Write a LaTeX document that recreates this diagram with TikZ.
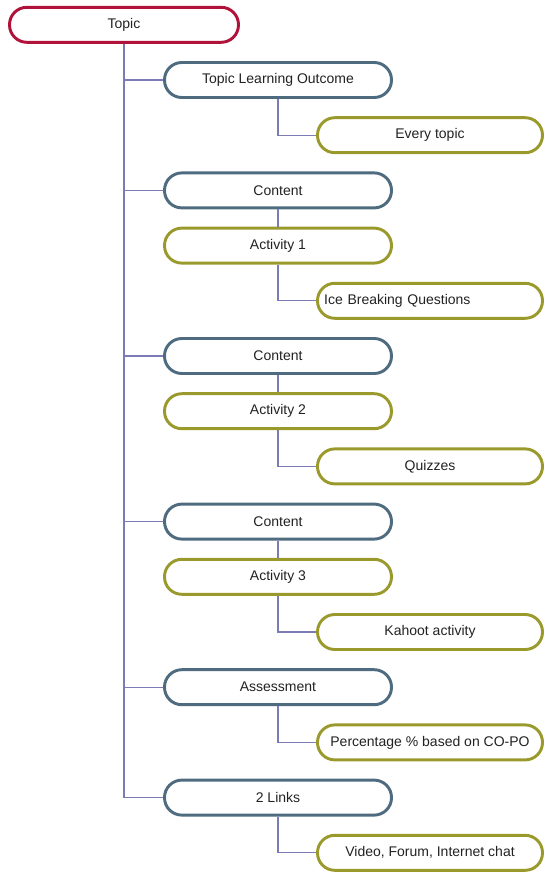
\documentclass[tikz,border=0pt]{standalone}
\usepackage{fontspec}
\setmainfont{Liberation Sans}

\definecolor{topicred}{HTML}{B0123A}
\definecolor{slate}{HTML}{4E6B7F}
\definecolor{olive}{HTML}{9A9A2C}
\definecolor{wire}{HTML}{7B7BB5}
\definecolor{ink}{HTML}{222222}

\begin{document}
\begin{tikzpicture}[x=0.75pt,y=-0.75pt,
    pill/.style={draw, fill=white, line width=2.2pt, rounded corners=13pt,
        minimum height=26.25pt, text=ink, font=\fontsize{10.5}{12}\selectfont},
    root/.style={pill, draw=topicred, minimum width=171.75pt},
    branch/.style={pill, draw=slate, minimum width=170.25pt},
    task/.style={pill, draw=olive, minimum width=170.25pt},
    leaf/.style={pill, draw=olive, minimum width=168.75pt},
    link/.style={draw=wire, line width=0.8pt}]
    \useasboundingbox (0,0) rectangle (544,872);
    \node[root] (topic) at (124,24.8) {Topic};
    \node[branch] (tlo) at (278,80) {Topic Learning Outcome};
    \node[leaf] (every) at (430,135.2) {Every topic};
    \node[branch] (cont1) at (278,190.4) {Content};
    \node[task] (act1) at (278,245.6) {Activity 1};
    \node[leaf, text width=158.75pt, inner xsep=5pt, align=left] (ice) at (430,300.8) {Ice Breaking Questions};
    \node[branch] (cont2) at (278,356) {Content};
    \node[task] (act2) at (278,411.2) {Activity 2};
    \node[leaf] (quiz) at (430,466.4) {Quizzes};
    \node[branch] (cont3) at (278,521.6) {Content};
    \node[task] (act3) at (278,576.8) {Activity 3};
    \node[leaf] (kahoot) at (430,632) {Kahoot activity};
    \node[branch] (assess) at (278,687.2) {Assessment};
    \node[leaf] (perc) at (430,742.4) {Percentage \% based on CO-PO};
    \node[branch] (links) at (278,797.6) {2 Links};
    \node[leaf] (video) at (430,852.8) {Video, Forum, Internet chat};
    % trunk
    \draw[link] (topic.south) |- (links.west);
    \draw[link] (topic.south) |- (tlo.west) (topic.south) |- (cont1.west)
        (topic.south) |- (cont2.west) (topic.south) |- (cont3.west)
        (topic.south) |- (assess.west);
    % content to activity
    \draw[link] (cont1) -- (act1) (cont2) -- (act2) (cont3) -- (act3);
    % leaves
    \draw[link] (tlo.south) |- (every.west);
    \draw[link] (act1.south) |- (ice.west);
    \draw[link] (act2.south) |- (quiz.west);
    \draw[link] (act3.south) |- (kahoot.west);
    \draw[link] (assess.south) |- (perc.west);
    \draw[link] (links.south) |- (video.west);
\end{tikzpicture}
\end{document}
